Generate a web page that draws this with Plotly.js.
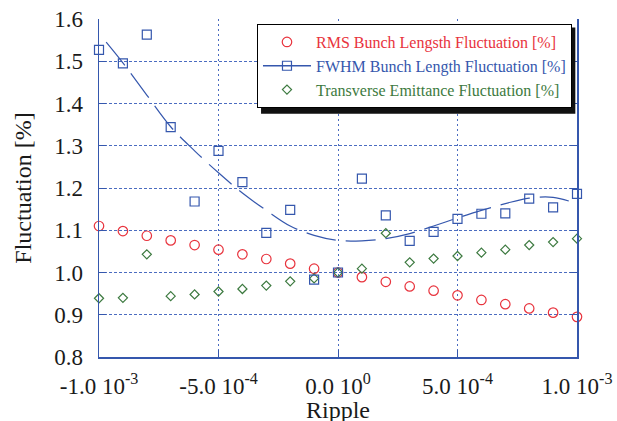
<!DOCTYPE html>
<html>
<head>
<meta charset="utf-8">
<script src="https://cdn.plot.ly/plotly-3.0.1.min.js"></script>
<style>
  html, body { margin: 0; padding: 0; background: #ffffff; }
  #chart { width: 617px; height: 421px; }
</style>
</head>
<body>
<div id="chart"></div>
<script>
// ---- data ----
const ripple = [-1.0e-3, -0.9e-3, -0.8e-3, -0.7e-3, -0.6e-3, -0.5e-3, -0.4e-3, -0.3e-3, -0.2e-3, -0.1e-3,
                0.0, 0.1e-3, 0.2e-3, 0.3e-3, 0.4e-3, 0.5e-3, 0.6e-3, 0.7e-3, 0.8e-3, 0.9e-3, 1.0e-3];
const rmsFluct = [1.110, 1.098, 1.087, 1.076, 1.065, 1.054, 1.043, 1.032, 1.021, 1.009,
                  1.000, 0.989, 0.978, 0.967, 0.957, 0.946, 0.935, 0.925, 0.915, 0.905, 0.895];
const fwhmFluct = [1.527, 1.495, 1.563, 1.344, 1.168, 1.288, 1.214, 1.094, 1.148, 0.983,
                   1.000, 1.222, 1.135, 1.075, 1.096, 1.127, 1.139, 1.140, 1.175, 1.154, 1.186];
const transFluct = [0.939, 0.940, 1.043, 0.944, 0.948, 0.955, 0.961, 0.969, 0.979, 0.986,
                    1.000, 1.009, 1.093, 1.024, 1.033, 1.039, 1.047, 1.054, 1.065, 1.072, 1.080];
// dashed fit curve through the FWHM points
const fitX = [-0.97e-3, -0.9e-3, -0.8e-3, -0.7e-3, -0.6e-3, -0.5e-3, -0.4e-3, -0.3e-3, -0.2e-3, -0.1e-3,
              0.0, 0.1e-3, 0.2e-3, 0.3e-3, 0.4e-3, 0.5e-3, 0.6e-3, 0.7e-3, 0.8e-3, 0.9e-3, 1.0e-3];
const fitY = [1.545, 1.496, 1.420, 1.345, 1.288, 1.236, 1.188, 1.147, 1.110, 1.088,
              1.076, 1.075, 1.080, 1.092, 1.110, 1.129, 1.147, 1.163, 1.176, 1.178, 1.163];

const seriesNames = ['RMS Bunch Lengsth Fluctuation [%]', 'FWHM Bunch Length Fluctuation [%]', 'Transverse Emittance Fluctuation [%]'];
const xTickVals = [-1.0e-3, -5.0e-4, 0.0, 5.0e-4, 1.0e-3];
const xTickText = ['-1.0 10<sup>-3</sup>', '-5.0 10<sup>-4</sup>', '0.0 10<sup>0</sup>', '5.0 10<sup>-4</sup>', '1.0 10<sup>-3</sup>'];
const yTickVals = [0.8, 0.9, 1.0, 1.1, 1.2, 1.3, 1.4, 1.5, 1.6];
const xTitle = 'Ripple';
const yTitle = 'Fluctuation [%]';

// ---- styles ----
const RED = '#e8333d', BLUE = '#3557ad', GREEN = '#3d7a40', GRID = '#4b6cc0';
const FONT = '"Liberation Serif", "Times New Roman", serif';
const TXT = '#1a1a1a';
const PAD = '\u00a0';

const traces = [
  { x: ripple, y: rmsFluct, mode: 'markers', type: 'scatter', cliponaxis: false,
    name: '<span style="color:' + RED + '">' + seriesNames[0] + '</span>',
    marker: { symbol: 'circle-open', size: 9.5, color: RED, line: { width: 1.2, color: RED } } },
  { x: [null], y: [null], mode: 'lines+markers', type: 'scatter',
    name: '<span style="color:' + BLUE + '">' + seriesNames[1] + '</span>',
    line: { color: BLUE, width: 1.3 },
    marker: { symbol: 'square-open', size: 9, color: BLUE, line: { width: 1.2, color: BLUE } } },
  { x: ripple, y: transFluct, mode: 'markers', type: 'scatter', cliponaxis: false,
    name: '<span style="color:' + GREEN + '">' + seriesNames[2] + PAD + '</span>',
    marker: { symbol: 'diamond-open', size: 7, color: GREEN, line: { width: 1.2, color: GREEN } } },
  { x: fitX, y: fitY, mode: 'lines', type: 'scatter', showlegend: false, cliponaxis: false,
    line: { color: BLUE, width: 1.2, dash: '30px,10px', shape: 'spline' } },
  { x: ripple, y: fwhmFluct, mode: 'markers', type: 'scatter', showlegend: false, cliponaxis: false,
    marker: { symbol: 'square-open', size: 9, color: BLUE, line: { width: 1.2, color: BLUE } } }
];

const layout = {
  width: 617, height: 421,
  margin: { l: 99, r: 40, t: 19, b: 64, pad: 0 },
  paper_bgcolor: '#ffffff', plot_bgcolor: '#ffffff',
  font: { family: FONT, size: 23, color: TXT },
  showlegend: true,
  xaxis: {
    range: [-1.0e-3, 1.0e-3], tickmode: 'array', tickvals: xTickVals, ticktext: xTickText,
    tickfont: { family: FONT, size: 23, color: TXT },
    showgrid: true, gridcolor: GRID, gridwidth: 1, griddash: '2px,3px',
    showline: true, linecolor: BLUE, linewidth: 1.5, mirror: false,
    ticks: 'inside', ticklen: 7, tickcolor: BLUE, tickwidth: 1,
    zeroline: false, ticklabelstandoff: 8
  },
  yaxis: {
    range: [0.8, 1.6], tickmode: 'array', tickvals: yTickVals, tickformat: '.1f',
    tickfont: { family: FONT, size: 23, color: TXT },
    showgrid: true, gridcolor: GRID, gridwidth: 1, griddash: '3px,2px',
    showline: true, linecolor: BLUE, linewidth: 1.5, mirror: 'ticks',
    ticks: 'inside', ticklen: 7, tickcolor: BLUE, tickwidth: 1,
    zeroline: false, ticklabelstandoff: 10,
    title: { text: yTitle, font: { family: FONT, size: 24, color: TXT }, standoff: 16 }
  },
  annotations: [{ text: xTitle, xref: 'paper', yref: 'paper', x: 0.5, y: -0.158,
    xanchor: 'center', yanchor: 'middle', showarrow: false,
    font: { family: FONT, size: 24, color: TXT } }],
  legend: {
    x: 0.3305, y: 0.985, xanchor: 'left', yanchor: 'top',
    bgcolor: '#ffffff', bordercolor: '#000000', borderwidth: 1,
    font: { family: FONT, size: 16, color: TXT }, itemwidth: 48, tracegroupgap: 0
  },
  // drop shadow of the legend box (the legend itself is drawn on top of it)
  shapes: [{ type: 'rect', xref: 'paper', yref: 'paper', layer: 'above',
    x0: 0.339, x1: 0.9965, y0: 0.720, y1: 0.975,
    fillcolor: '#111111', line: { width: 0 } }]
};

Plotly.newPlot('chart', traces, layout, { displayModeBar: false, staticPlot: true });
</script>
</body>
</html>
